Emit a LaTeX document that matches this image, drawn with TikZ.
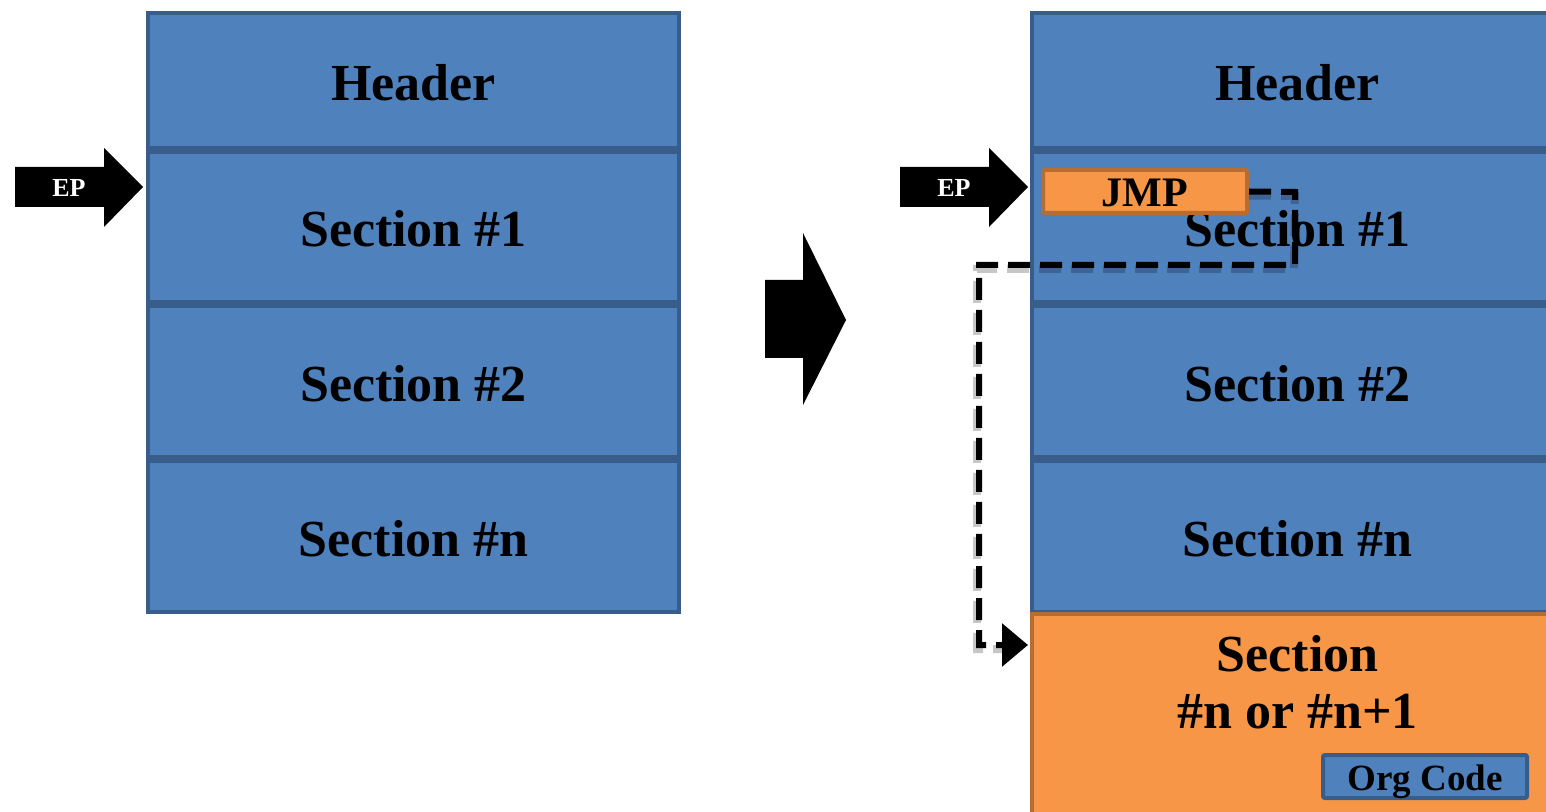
\documentclass[tikz,border=0pt]{standalone}
\usepackage{fontspec}
\setmainfont{Liberation Serif}
\usetikzlibrary{arrows.meta}
\definecolor{bfill}{HTML}{4F81BD}
\definecolor{bborder}{HTML}{385D8A}
\definecolor{ofill}{HTML}{F79646}
\definecolor{oborder}{HTML}{B66D31}
\tikzset{
  blk/.style={draw=bborder, fill=bfill, line width=2pt, minimum width=265.5pt, inner sep=0pt,
    text height=20pt, text depth=0pt,
    font=\bfseries\fontsize{26}{30}\selectfont},
  obox/.style={draw=oborder, fill=ofill, line width=2pt, minimum width=265.5pt, inner sep=0pt},
  small/.style={line width=2pt, minimum width=102pt, minimum height=21.5pt, inner sep=0pt, rounded corners=1pt},
  bigarrow/.style={fill=black, draw=none},
  jumpline/.style={line width=3pt, dash pattern=on 11pt off 5pt, line join=miter, line cap=butt},
  jumpshadow/.style={line width=4pt, dash pattern=on 11pt off 5pt, draw=black, opacity=0.22},
}
\begin{document}
\begin{tikzpicture}[x=0.5pt,y=-0.5pt]
\useasboundingbox (0,0) rectangle (1546,812);
\clip (0,0) rectangle (1546,812);

% left column
\node[blk, minimum height=67.5pt] (lh) at (413.5,80.5) {Header};
\node[blk, minimum height=75pt] (l1) at (413.5,227) {Section \#1};
\node[blk, minimum height=75.5pt] (l2) at (413.5,381.5) {Section \#2};
\node[blk, minimum height=75.5pt] (ln) at (413.5,536.5) {Section \#n};

% right column
\node[blk, minimum height=67.5pt] (rh) at (1297.5,80.5) {Header};
\node[blk, minimum height=75pt] (r1) at (1297.5,227) {Section \#1};
\node[blk, minimum height=75.5pt] (r2) at (1297.5,381.5) {Section \#2};
\node[blk, minimum height=75.5pt] (rn) at (1297.5,536.5) {Section \#n};
\node[obox, minimum height=130pt] (ro) at (1297.5,744) {};
\node[font=\bfseries\fontsize{26}{28.5}\selectfont, align=center] (rot) at (1297.5,682) {Section\\\#n or \#n+1};
\node[small, draw=bborder, fill=bfill, text height=13.5pt, text depth=0pt,
      font=\bfseries\fontsize{18.5}{20}\selectfont] (org) at (1425,776.5) {Org Code};

% EP arrows
\path[bigarrow] (15,167) -- (104,167) -- (104,148) -- (143,187) -- (104,227) -- (104,207) -- (15,207) -- cycle;
\node[text=white, font=\bfseries\fontsize{13}{14}\selectfont] (ep1) at (69,188) {EP};
\path[bigarrow] (900,167) -- (989,167) -- (989,148) -- (1028,187) -- (989,227) -- (989,207) -- (900,207) -- cycle;
\node[text=white, font=\bfseries\fontsize{13}{14}\selectfont] (ep2) at (954,188) {EP};

% big transform arrow
\path[bigarrow] (765,280) -- (803,280) -- (803,233) -- (846,320) -- (803,405) -- (803,358) -- (765,358) -- cycle;

% JMP box
\node[small, draw=oborder, fill=ofill, text height=15.5pt, text depth=0pt,
      font=\bfseries\fontsize{21}{22}\selectfont] (jmp) at (1145,191.5) {JMP};

% dashed jump line
\coordinate (c1) at (1295,192);
\coordinate (c2) at (1295,265);
\coordinate (c3) at (979,265);
\coordinate (c4) at (979,645);
\coordinate (c5) at (1028,645);
\draw[jumpshadow] ([shift={(0,4)}]jmp.east) -- ([shift={(0,4)}]c1) -- ([shift={(-1,4)}]c2) -- ([shift={(-2,4)}]c3) -- ([shift={(-2,4)}]c4) -- ([shift={(-10,4)}]c5);
\draw[jumpline, -{Triangle[length=13pt,width=21pt]}] (jmp.east) -- (c1) -- (c2) -- (c3) -- (c4) -- (c5);
\end{tikzpicture}
\end{document}
